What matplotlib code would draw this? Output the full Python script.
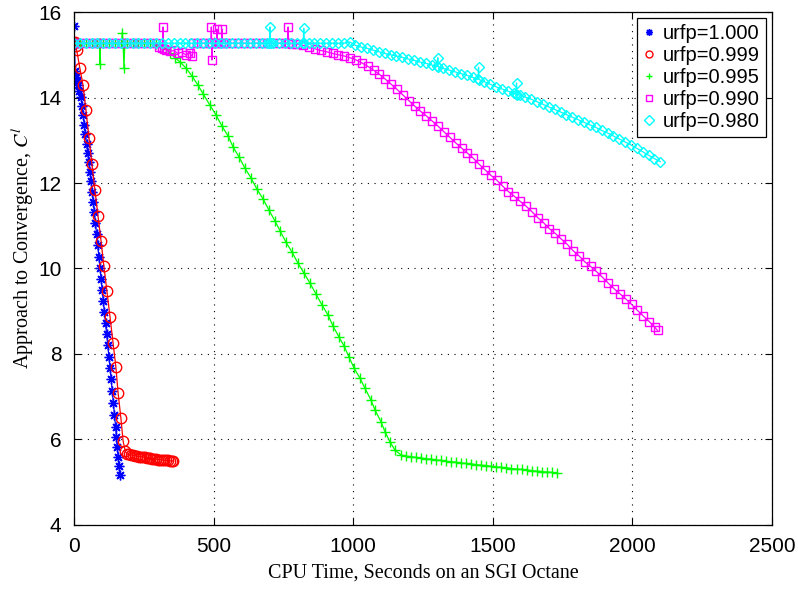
import numpy as np
import matplotlib
matplotlib.use("Agg")
import matplotlib.pyplot as plt
from matplotlib.lines import Line2D

plt.rcParams["font.family"] = ["Liberation Sans", "DejaVu Sans"]
plt.rcParams["mathtext.fontset"] = "stix"

# urfp = 1.000
time_1000 = [0, 1, 2, 4, 7, 11, 14, 19, 25, 29, 33, 37, 41, 45, 49, 53, 57, 61,
             65, 69, 73, 77, 81, 85, 89, 93, 97, 101, 105, 109, 113, 117, 121,
             125, 129, 133, 137, 141, 145, 149, 152, 155, 158, 161, 164]
conv_1000 = [15.27, 15.68, 15.25, 14.62, 14.48, 14.38, 14.29, 14.15, 14.01,
             13.80, 13.58, 13.36, 13.14, 12.92, 12.70, 12.48, 12.26, 12.04,
             11.80, 11.56, 11.32, 11.06, 10.80, 10.54, 10.28, 10.02, 9.76,
             9.50, 9.24, 8.98, 8.72, 8.46, 8.20, 7.94, 7.68, 7.42, 7.14, 6.86,
             6.58, 6.30, 6.06, 5.82, 5.60, 5.38, 5.17]

# urfp = 0.999
time_0999 = [0, 3, 6, 10, 21, 32, 43, 54, 64, 75, 86, 97, 107, 118, 129, 140,
             150, 158, 168, 176, 184, 190, 197, 204, 211, 218, 225, 232, 239,
             246, 253, 260, 267, 274, 281, 288, 295, 302, 309, 316, 323, 330,
             337, 344, 351, 356]
conv_0999 = [15.27, 15.30, 15.20, 15.10, 14.69, 14.30, 13.70, 13.05, 12.45,
             11.84, 11.23, 10.64, 10.06, 9.47, 8.87, 8.26, 7.70, 7.09, 6.50,
             5.96, 5.72, 5.66, 5.65, 5.64, 5.63, 5.62, 5.61, 5.60, 5.60, 5.59,
             5.58, 5.57, 5.57, 5.56, 5.55, 5.55, 5.54, 5.53, 5.53, 5.52, 5.52,
             5.51, 5.51, 5.50, 5.50, 5.49]

# urfp = 0.995
time_0995 = [0, 21, 42, 63, 84, 91, 93, 95, 105, 126, 147, 168, 171, 173, 176,
             179, 182, 189, 210, 231, 252, 273, 294, 315, 330, 344, 362, 380,
             401, 423, 444, 463, 487, 509, 530, 552, 570, 591, 612, 634, 655,
             677, 698, 720, 738, 759, 781, 802, 824, 845, 867, 888, 910, 928,
             949, 967, 985, 1003, 1024, 1042, 1064, 1078, 1100, 1114, 1132,
             1150, 1171, 1189, 1207, 1225, 1243, 1261, 1279, 1297, 1315, 1333,
             1351, 1369, 1387, 1405, 1423, 1441, 1459, 1477, 1495, 1513, 1531,
             1549, 1567, 1585, 1603, 1621, 1639, 1657, 1675, 1693, 1711, 1729]
conv_0995 = [15.27, 15.27, 15.27, 15.27, 15.27, 15.27, 14.78, 15.27, 15.27,
             15.27, 15.27, 15.27, 15.27, 15.52, 15.27, 14.70, 15.27, 15.27,
             15.27, 15.27, 15.27, 15.27, 15.25, 15.20, 15.13, 15.04, 14.93,
             14.83, 14.69, 14.50, 14.29, 14.08, 13.82, 13.59, 13.33, 13.10,
             12.84, 12.61, 12.35, 12.12, 11.86, 11.63, 11.37, 11.11, 10.88,
             10.62, 10.38, 10.13, 9.89, 9.66, 9.40, 9.15, 8.91, 8.65, 8.40,
             8.19, 7.93, 7.67, 7.44, 7.20, 6.92, 6.69, 6.41, 6.18, 5.94, 5.75,
             5.64, 5.61, 5.60, 5.58, 5.57, 5.55, 5.54, 5.52, 5.51, 5.49, 5.48,
             5.47, 5.45, 5.44, 5.43, 5.41, 5.40, 5.39, 5.37, 5.36, 5.35, 5.34,
             5.32, 5.31, 5.30, 5.29, 5.27, 5.26, 5.25, 5.24, 5.23, 5.21]

# urfp = 0.990
time_0990 = [0, 21, 42, 63, 84, 105, 126, 147, 168, 189, 210, 231, 252, 273,
             294, 305, 317, 319, 321, 330, 344, 358, 372, 386, 400, 414, 424,
             428, 440, 461, 482, 490, 492, 494, 496, 510, 512, 514, 528, 530,
             532, 546, 567, 588, 609, 630, 651, 672, 693, 714, 735, 756, 765,
             767, 769, 780, 800, 821, 842, 863, 884, 905, 926, 947, 968, 989,
             1010, 1031, 1052, 1073, 1094, 1115, 1136, 1157, 1178, 1199, 1220,
             1241, 1262, 1283, 1304, 1325, 1346, 1367, 1388, 1409, 1430, 1451,
             1472, 1493, 1514, 1535, 1556, 1577, 1598, 1619, 1640, 1661, 1682,
             1703, 1724, 1745, 1766, 1787, 1808, 1829, 1850, 1871, 1892, 1913,
             1934, 1955, 1976, 1997, 2018, 2039, 2060, 2081, 2090]
conv_0990 = [15.27, 15.27, 15.27, 15.27, 15.27, 15.27, 15.27, 15.27, 15.27,
             15.27, 15.27, 15.27, 15.27, 15.27, 15.27, 15.18, 15.16, 15.65,
             15.14, 15.12, 15.08, 15.10, 15.03, 15.06, 15.00, 15.04, 14.96,
             15.27, 15.27, 15.27, 15.27, 15.27, 15.65, 14.88, 15.27, 15.27,
             15.60, 15.27, 15.27, 15.60, 15.27, 15.27, 15.27, 15.27, 15.27,
             15.27, 15.27, 15.27, 15.27, 15.27, 15.27, 15.27, 15.27, 15.65,
             15.27, 15.26, 15.25, 15.22, 15.18, 15.14, 15.10, 15.07, 15.03,
             15.00, 14.97, 14.93, 14.88, 14.81, 14.73, 14.64, 14.54, 14.43,
             14.31, 14.19, 14.06, 13.93, 13.80, 13.68, 13.57, 13.45, 13.33,
             13.20, 13.07, 12.94, 12.82, 12.70, 12.58, 12.44, 12.31, 12.18,
             12.07, 11.93, 11.80, 11.69, 11.57, 11.46, 11.33, 11.19, 11.07,
             10.93, 10.82, 10.69, 10.57, 10.42, 10.30, 10.16, 10.05, 9.93,
             9.80, 9.66, 9.53, 9.41, 9.29, 9.16, 9.02, 8.89, 8.76, 8.62, 8.55]

# urfp = 0.980
time_0980 = [0, 21, 42, 63, 84, 105, 126, 147, 168, 189, 210, 231, 252, 273,
             294, 315, 336, 357, 378, 399, 420, 441, 462, 483, 504, 525, 546,
             567, 588, 609, 630, 651, 672, 693, 700, 702, 704, 714, 735, 756,
             777, 798, 819, 821, 823, 825, 840, 861, 882, 903, 924, 945, 966,
             987, 1008, 1029, 1050, 1071, 1092, 1113, 1134, 1155, 1176, 1197,
             1218, 1239, 1260, 1281, 1301, 1303, 1305, 1323, 1344, 1365, 1386,
             1407, 1428, 1447, 1449, 1451, 1470, 1491, 1512, 1533, 1554, 1575,
             1583, 1585, 1587, 1596, 1617, 1638, 1659, 1680, 1701, 1722, 1743,
             1764, 1785, 1806, 1827, 1848, 1869, 1890, 1911, 1932, 1953, 1974,
             1995, 2016, 2037, 2058, 2079, 2100]
conv_0980 = [15.27, 15.27, 15.27, 15.27, 15.27, 15.27, 15.27, 15.27, 15.27,
             15.27, 15.27, 15.27, 15.27, 15.27, 15.27, 15.27, 15.27, 15.27,
             15.27, 15.27, 15.27, 15.27, 15.27, 15.27, 15.27, 15.27, 15.27,
             15.27, 15.27, 15.27, 15.27, 15.27, 15.27, 15.27, 15.27, 15.65,
             15.27, 15.27, 15.27, 15.27, 15.27, 15.27, 15.27, 15.27, 15.62,
             15.27, 15.27, 15.27, 15.27, 15.27, 15.27, 15.27, 15.27, 15.30,
             15.22, 15.18, 15.15, 15.11, 15.07, 15.03, 15.00, 14.97, 14.94,
             14.90, 14.87, 14.83, 14.80, 14.76, 14.73, 14.93, 14.72, 14.68,
             14.64, 14.60, 14.56, 14.52, 14.47, 14.43, 14.71, 14.42, 14.37,
             14.31, 14.25, 14.20, 14.15, 14.10, 14.08, 14.34, 14.07, 14.06,
             14.01, 13.96, 13.90, 13.84, 13.78, 13.72, 13.66, 13.60, 13.54,
             13.48, 13.42, 13.36, 13.30, 13.23, 13.17, 13.10, 13.03, 12.96,
             12.89, 12.81, 12.73, 12.65, 12.57, 12.50]

labels = ["urfp=1.000", "urfp=0.999", "urfp=0.995", "urfp=0.990", "urfp=0.980"]
colors = ["#0000ff", "#ff0000", "#00ff00", "#ff00ff", "#00ffff"]
# asterisk, circle, plus, square, diamond
markers = [(8, 2, 0), "o", "+", "s", "D"]
sizes = [7, 7.5, 7.5, 5.5, 5.5]

series = [(time_1000, conv_1000), (time_0999, conv_0999), (time_0995, conv_0995),
          (time_0990, conv_0990), (time_0980, conv_0980)]

fig = plt.figure(figsize=(7.98, 5.89), dpi=100)
ax = fig.add_axes([0.0927, 0.1087, 0.8747, 0.8709])

for (t, c), col, mk, ms in zip(series, colors, markers, sizes):
    ax.plot(np.array(t), np.array(c), color=col, lw=0.9, marker=mk, ms=ms,
            mfc="none", mec=col, mew=1.0)

ax.set_xlim(0, 2500)
ax.set_ylim(4, 16)
ax.set_xticks([0, 500, 1000, 1500, 2000, 2500])
ax.set_yticks([4, 6, 8, 10, 12, 14, 16])
ax.tick_params(direction="in", top=True, right=True, length=5, width=0.8,
               labelsize=15, pad=9)
ax.grid(True, color="black", linestyle=(0, (1, 5)), linewidth=0.8)
for sp in ax.spines.values():
    sp.set_linewidth(0.9)

ax.set_xlabel("CPU Time, Seconds on an SGI Octane", family="Liberation Serif",
              fontsize=14.5)
ax.set_ylabel("Approach to Convergence, $C^l$", family="Liberation Serif",
              fontsize=14.5)
ax.xaxis.set_label_coords(0.5, -0.075)
ax.yaxis.set_label_coords(-0.054, 0.54)

handles = [Line2D([], [], ls="none", marker=mk, color=col, mfc="none",
                  ms=5, mew=1.0)
           for col, mk in zip(colors, markers)]
leg = ax.legend(handles, labels, loc="upper right", fontsize=14.5,
                handlelength=0.6, handletextpad=0.4, borderaxespad=0.3,
                labelspacing=0.15, borderpad=0.3, fancybox=False,
                framealpha=1)
leg.get_frame().set_edgecolor("black")
leg.get_frame().set_linewidth(0.9)

fig.savefig("out.png", dpi=100)
